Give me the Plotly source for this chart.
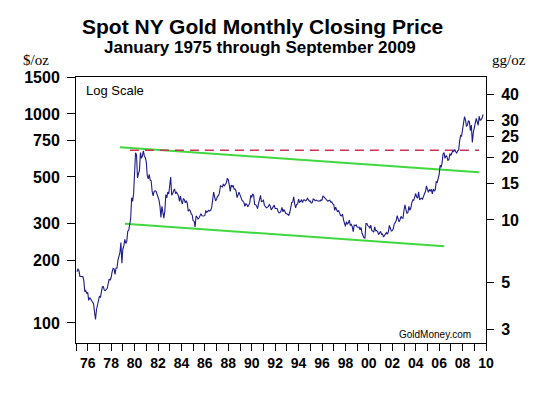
import plotly.graph_objects as go
import math

# Monthly closing prices ($/oz), Jan..Dec per year
p1975 = [175.8, 181.8, 178.2, 167.0, 167.0, 166.3, 166.7, 159.8, 141.3, 142.9, 138.2, 140.3]
p1976 = [128.2, 132.3, 129.6, 128.4, 125.5, 123.8, 112.5, 104.0, 116.0, 123.2, 130.3, 134.5]
p1977 = [132.3, 142.8, 148.9, 149.2, 143.5, 143.0, 144.1, 146.5, 154.1, 162.3, 160.1, 165.0]
p1978 = [175.5, 182.3, 181.6, 170.9, 183.1, 183.1, 200.3, 208.1, 217.1, 242.6, 193.4, 226.0]
p1979 = [233.7, 251.3, 240.1, 245.3, 274.6, 277.5, 296.5, 315.1, 397.3, 382.0, 415.7, 512.0]
p1980 = [653.0, 637.0, 494.5, 518.0, 535.5, 653.5, 614.3, 631.3, 666.8, 629.0, 619.8, 589.8]
p1981 = [506.5, 489.0, 513.8, 482.8, 479.3, 426.0, 406.0, 425.0, 428.8, 427.0, 414.5, 400.0]
p1982 = [387.0, 362.6, 320.0, 361.3, 325.3, 317.5, 342.9, 411.5, 397.0, 423.3, 414.3, 456.9]
p1983 = [499.5, 408.5, 414.8, 429.3, 437.5, 416.0, 422.0, 414.3, 405.0, 382.0, 405.0, 381.5]
p1984 = [370.9, 394.3, 388.5, 375.8, 384.3, 373.3, 342.4, 348.3, 343.8, 333.5, 329.0, 309.0]
p1985 = [306.7, 287.8, 325.1, 321.4, 314.0, 317.8, 327.0, 333.5, 325.7, 325.1, 324.9, 326.8]
p1986 = [345.5, 338.2, 344.0, 345.8, 342.9, 345.8, 357.5, 384.7, 423.2, 401.0, 383.5, 390.9]
p1987 = [405.5, 405.9, 421.1, 453.3, 451.0, 447.3, 462.5, 453.4, 459.5, 468.8, 492.5, 484.1]
p1988 = [458.0, 426.2, 457.0, 449.0, 455.5, 436.6, 436.8, 427.8, 397.7, 412.4, 422.6, 410.2]
p1989 = [394.0, 387.0, 383.2, 377.6, 361.8, 373.0, 368.3, 359.8, 366.5, 375.3, 408.2, 398.6]
p1990 = [415.1, 407.7, 368.5, 367.8, 363.1, 352.2, 372.3, 387.8, 408.4, 379.5, 384.9, 386.2]
p1991 = [366.0, 362.7, 355.7, 357.8, 360.4, 368.4, 363.0, 347.4, 354.9, 357.5, 366.3, 353.2]
p1992 = [354.1, 353.1, 341.7, 336.4, 337.5, 343.4, 357.8, 340.0, 349.0, 339.3, 334.2, 332.9]
p1993 = [330.5, 327.6, 337.8, 354.3, 377.5, 378.5, 401.8, 371.6, 355.5, 369.6, 370.9, 391.8]
p1994 = [377.9, 381.6, 389.2, 376.5, 387.6, 388.3, 384.0, 385.8, 394.9, 389.1, 383.1, 383.3]
p1995 = [374.9, 376.4, 392.0, 389.8, 384.3, 387.1, 383.4, 382.4, 384.0, 382.7, 387.8, 387.0]
p1996 = [405.6, 400.7, 396.4, 391.3, 390.6, 382.0, 385.3, 386.5, 379.0, 379.5, 371.3, 369.3]
p1997 = [345.5, 358.6, 348.2, 340.2, 345.6, 334.6, 326.4, 325.4, 332.1, 311.4, 296.8, 290.2]
p1998 = [304.9, 297.4, 301.0, 310.7, 293.6, 296.3, 288.9, 273.4, 293.9, 292.3, 294.7, 287.8]
p1999 = [287.1, 287.3, 279.5, 286.6, 268.6, 261.0, 255.6, 254.8, 299.0, 299.1, 291.4, 290.3]
p2000 = [283.3, 293.7, 276.8, 275.1, 272.3, 288.2, 276.8, 277.0, 273.7, 264.5, 269.1, 274.5]
p2001 = [265.6, 266.7, 257.7, 263.2, 267.5, 270.6, 265.9, 273.0, 293.1, 278.8, 275.5, 276.5]
p2002 = [282.3, 296.9, 301.4, 308.2, 326.6, 318.5, 304.7, 312.8, 323.7, 316.9, 317.1, 347.2]
p2003 = [367.5, 347.5, 334.9, 336.8, 361.4, 346.0, 354.8, 375.6, 388.0, 386.3, 398.4, 416.3]
p2004 = [399.8, 395.9, 423.7, 388.5, 393.3, 395.8, 391.4, 407.3, 415.7, 425.6, 453.4, 435.6]
p2005 = [422.2, 435.5, 427.5, 435.7, 414.5, 437.1, 429.0, 433.3, 473.3, 470.8, 495.7, 513.0]
p2006 = [568.8, 556.0, 582.0, 644.0, 653.0, 613.5, 632.5, 623.5, 599.3, 603.8, 646.7, 632.0]
p2007 = [650.5, 666.5, 661.8, 677.0, 659.1, 650.5, 665.5, 672.0, 743.0, 789.5, 783.5, 833.8]
p2008 = [923.3, 971.5, 933.5, 871.0, 885.8, 930.3, 918.0, 833.0, 884.5, 730.8, 814.5, 869.8]
p2009 = [919.5, 952.0, 916.5, 883.3, 975.5, 934.5, 939.0, 955.5, 995.8]

yearly = [p1975, p1976, p1977, p1978, p1979, p1980, p1981, p1982, p1983, p1984,
          p1985, p1986, p1987, p1988, p1989, p1990, p1991, p1992, p1993, p1994,
          p1995, p1996, p1997, p1998, p1999, p2000, p2001, p2002, p2003, p2004,
          p2005, p2006, p2007, p2008, p2009]
start_year = 1975

# Trend lines (year, $/oz)
upper_x = [1978.76, 2009.40]
upper_y = [693, 526]
lower_x = [1979.18, 2006.44]
lower_y = [298.5, 232.8]
peak_x = [1979.6, 2009.4]
peak_y = [670, 670]

left_ticks = [100, 200, 300, 500, 750, 1000, 1500]
right_ticks = [3, 5, 10, 15, 20, 25, 30, 40]
year_ticks = list(range(1975, 2011))
GRAMS_PER_OZ = 31.1035

dates, prices = [], []
for i, vals in enumerate(yearly):
    for m, v in enumerate(vals):
        dates.append(start_year + i + (m + 1) / 12)
        prices.append(v)

year_text = [("%02d" % (y % 100)) if y % 2 == 0 else "" for y in year_ticks]

fig = go.Figure()
fig.add_trace(go.Scatter(x=upper_x, y=upper_y, mode="lines",
                         line=dict(color="#3fd83f", width=2), hoverinfo="skip"))
fig.add_trace(go.Scatter(x=lower_x, y=lower_y, mode="lines",
                         line=dict(color="#3fd83f", width=2), hoverinfo="skip"))
fig.add_trace(go.Scatter(x=peak_x, y=peak_y, mode="lines",
                         line=dict(color="#cc3355", width=1.5, dash="9px,6px"), hoverinfo="skip"))
fig.add_trace(go.Scatter(x=dates, y=prices, mode="lines",
                         line=dict(color="#1c1c8a", width=1.1)))
fig.add_trace(go.Scatter(x=dates, y=[p / GRAMS_PER_OZ for p in prices], mode="lines",
                         yaxis="y2", line=dict(color="rgba(0,0,0,0)", width=0),
                         hoverinfo="skip"))

ymin, ymax = 80.2, 1503
tickfont_y = dict(family="Liberation Sans, Arial", size=16, color="black", weight="bold")

fig.update_layout(
    width=543, height=396,
    margin=dict(l=76, r=57, t=77, b=53),
    paper_bgcolor="white", plot_bgcolor="white",
    showlegend=False,
    xaxis=dict(range=[1975, 2010], tickvals=year_ticks, ticktext=year_text,
               ticks="outside", ticklen=7, tickwidth=1, tickcolor="black",
               showline=True, linecolor="black", linewidth=1, mirror=True,
               showgrid=False, zeroline=False, automargin=False,
               tickfont=dict(family="Liberation Sans, Arial", size=14, color="black", weight="bold")),
    yaxis=dict(type="log", range=[math.log10(ymin), math.log10(ymax)],
               tickvals=left_ticks, ticktext=[str(t) for t in left_ticks],
               ticks="outside", ticklen=8, tickwidth=1, tickcolor="black",
               showline=True, linecolor="black", linewidth=1, mirror=True, automargin=False,
               showgrid=False, zeroline=False, tickfont=tickfont_y, ticklabelstandoff=4),
    yaxis2=dict(type="log", overlaying="y", side="right",
                range=[math.log10(ymin / GRAMS_PER_OZ), math.log10(ymax / GRAMS_PER_OZ)],
                tickvals=right_ticks, ticktext=[str(t) for t in right_ticks],
                ticks="outside", ticklen=7, tickwidth=1, tickcolor="black",
                showline=True, linecolor="black", linewidth=1, automargin=False,
                showgrid=False, zeroline=False, tickfont=tickfont_y, ticklabelstandoff=4),
)

def px_x(x):
    return (x - 76) / 410

def px_y(y):
    return (343 - y) / 266

anns = [
    dict(text="<b>Spot NY Gold Monthly Closing Price</b>", x=px_x(262), y=px_y(26.5),
         font=dict(family="Liberation Sans, Arial", size=21, color="black")),
    dict(text="<b>January 1975 through September 2009</b>", x=px_x(260), y=px_y(48),
         font=dict(family="Liberation Sans, Arial", size=17, color="black")),
    dict(text="$/oz", x=px_x(36), y=px_y(60),
         font=dict(family="Liberation Serif, Times New Roman", size=15, color="black")),
    dict(text="gg/oz", x=px_x(509), y=px_y(60),
         font=dict(family="Liberation Serif, Times New Roman", size=15, color="black")),
    dict(text="Log Scale", x=px_x(84), y=px_y(90), xanchor="left",
         font=dict(family="Liberation Sans, Arial", size=13, color="black")),
    dict(text="GoldMoney.com", x=px_x(397), y=px_y(334.5), xanchor="left",
         font=dict(family="Liberation Sans, Arial", size=10, color="black")),
]
for a in anns:
    a.setdefault("xanchor", "center")
    fig.add_annotation(xref="paper", yref="paper", showarrow=False, yanchor="middle", **a)

fig.write_html("out.html", config={"displayModeBar": False},
               post_script="document.body.style.margin='0';")
